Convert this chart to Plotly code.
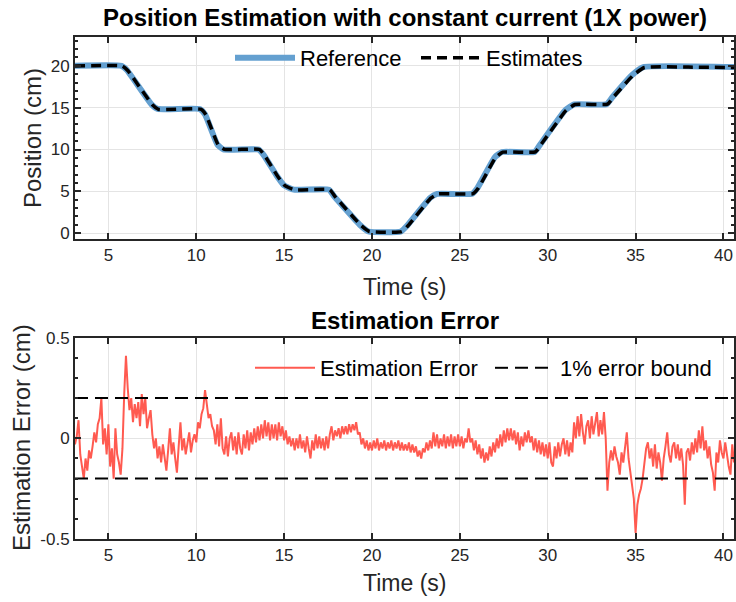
import numpy as np
import plotly.graph_objects as go

# ---- reference trajectory (knots of the commanded position, cm) ----
ref_time = [3.1, 5.75, 6.05, 7.45, 7.8, 10.2, 10.5, 11.2, 11.55, 13.55, 13.85, 14.6,
            15.0, 15.55, 17.55, 17.85, 19.3, 19.8, 21.65, 22.0, 23.3, 23.7, 25.7,
            26.0, 27.0, 27.4, 29.25, 29.6, 31.0, 31.5, 33.35, 33.7, 34.8, 35.45, 40.6]
ref_pos = [20.0, 20.0, 19.5, 15.4, 14.85, 14.85, 14.2, 10.6, 10.0, 10.0, 9.3, 6.8,
           5.7, 5.2, 5.2, 4.4, 1.0, 0.2, 0.2, 0.9, 4.2, 4.7, 4.7,
           5.4, 9.1, 9.7, 9.7, 10.7, 14.7, 15.4, 15.4, 16.3, 18.9, 19.85, 19.85]

# ---- estimated position (cm) ----
est_time = [3.1, 5.8, 6.1, 7.5, 7.85, 10.25, 10.55, 11.25, 11.6, 13.6, 13.9, 14.65,
            15.05, 15.6, 17.6, 17.9, 19.35, 19.85, 21.7, 22.05, 23.35, 23.75, 25.75,
            26.05, 27.05, 27.45, 29.3, 29.65, 31.05, 31.55, 33.4, 33.75, 34.85, 35.5,
            38.0, 40.6]
est_pos = [19.98, 19.98, 19.45, 15.35, 14.8, 14.82, 14.15, 10.55, 10.02, 10.0, 9.25,
           6.75, 5.68, 5.18, 5.2, 4.38, 0.98, 0.2, 0.18, 0.88, 4.18, 4.68, 4.72,
           5.38, 9.08, 9.68, 9.72, 10.68, 14.68, 15.38, 15.42, 16.28, 18.85, 19.8,
           19.85, 19.8]

# ---- estimation error, sampled every 0.1 s from 3.1 s (cm) ----
err_start = 3.1
err_step = 0.1
err_vals = [
    -0.03, 0.01, 0.09, -0.08, -0.14, -0.20, -0.10, -0.16, -0.06,                # 3.1-3.9
    -0.10, -0.04, 0.03, -0.02, 0.07, 0.10, 0.20, -0.03, 0.05, -0.08,            # 4
    0.07, -0.14, -0.05, -0.20, 0.05, -0.08, -0.12, -0.18, -0.05, 0.22,          # 5
    0.41, 0.25, 0.14, 0.20, 0.08, 0.17, 0.10, 0.18, 0.06, 0.22,                 # 6
    0.12, 0.20, 0.05, 0.10, 0.14, 0.02, -0.05, 0.00, -0.10, -0.04,              # 7
    -0.12, -0.03, -0.10, -0.16, -0.06, 0.05, -0.08, -0.02, -0.10, -0.17,        # 8
    -0.04, 0.08, -0.06, 0.00, -0.08, -0.02, 0.03, -0.07, -0.01, 0.02,           # 9
    -0.02, 0.08, 0.05, 0.12, 0.15, 0.24, 0.16, 0.10, 0.12, 0.06,                # 10
    0.04, -0.03, 0.07, -0.04, 0.10, -0.05, -0.08, 0.01, -0.09, 0.00,            # 11
    0.03, -0.06, 0.01, -0.08, 0.03, -0.05, -0.08, 0.02, -0.05, 0.04,            # 12
    -0.06, 0.03, -0.03, 0.05, -0.02, 0.06, -0.01, 0.07, 0.00, 0.09,             # 13
    0.01, 0.08, -0.01, 0.07, 0.00, 0.07, -0.01, 0.08, 0.01, 0.06,               # 14
    -0.01, 0.04, -0.03, 0.01, -0.04, 0.00, -0.06, 0.00, -0.05, 0.02,            # 15
    -0.05, -0.01, -0.07, 0.01, -0.05, -0.10, -0.01, -0.06, 0.02, -0.05,         # 16
    0.01, -0.05, 0.00, -0.06, 0.01, -0.05, 0.02, 0.06, -0.01, 0.04,             # 17
    0.01, 0.05, 0.00, 0.06, 0.02, 0.06, 0.02, 0.07, 0.03, 0.07,                 # 18
    0.04, 0.08, 0.02, 0.03, -0.03, 0.00, -0.05, -0.01, -0.06, -0.02,            # 19
    -0.06, -0.01, -0.05, 0.00, -0.06, -0.02, -0.05, -0.01, -0.06, -0.02,        # 20
    -0.05, -0.01, -0.06, -0.02, -0.05, -0.01, -0.06, -0.02, -0.06, -0.03,       # 21
    -0.06, -0.02, -0.07, -0.03, -0.07, -0.04, -0.09, -0.06, -0.10, -0.05,       # 22
    -0.07, -0.02, -0.06, -0.01, -0.05, 0.03, -0.04, 0.02, -0.05, 0.00,          # 23
    -0.04, 0.02, -0.05, 0.01, -0.04, 0.02, -0.05, 0.01, -0.04, 0.02,            # 24
    -0.04, 0.01, -0.05, 0.00, -0.02, 0.05, -0.02, 0.00, -0.06, -0.01,           # 25
    -0.08, -0.03, -0.10, -0.05, -0.12, -0.07, -0.11, -0.04, -0.09, -0.02,       # 26
    -0.07, 0.00, -0.05, 0.02, -0.04, 0.04, -0.02, 0.05, -0.01, 0.05,            # 27
    -0.01, 0.04, -0.03, 0.03, -0.06, 0.01, -0.04, 0.03, -0.02, 0.04,            # 28
    -0.02, 0.01, -0.06, 0.00, -0.07, -0.01, -0.08, -0.02, -0.09, -0.03,         # 29
    -0.10, -0.02, -0.12, -0.14, -0.04, -0.10, -0.02, -0.09, -0.03, 0.00,        # 30
    -0.08, -0.01, -0.09, -0.02, -0.07, 0.08, 0.00, 0.11, 0.01, 0.12,            # 31
    0.03, -0.03, 0.06, 0.09, 0.00, 0.11, 0.02, 0.09, 0.13, 0.01,                # 32
    0.09, 0.02, 0.13, 0.00, -0.26, -0.12, -0.06, -0.11, -0.04, -0.09,           # 33
    -0.12, -0.18, -0.07, -0.12, -0.05, 0.03, -0.10, -0.17, -0.22, -0.30,        # 34
    -0.47, -0.33, -0.28, -0.25, -0.20, -0.12, -0.05, -0.02, -0.10, -0.05,       # 35
    -0.14, -0.03, -0.15, -0.07, -0.12, -0.21, -0.10, -0.04, 0.03, -0.08,        # 36
    -0.12, -0.04, -0.02, -0.10, -0.03, -0.11, -0.05, -0.13, -0.33, -0.07,       # 37
    -0.05, -0.11, -0.02, -0.08, 0.00, -0.07, 0.04, -0.05, 0.06, -0.06,          # 38
    -0.01, -0.10, -0.04, -0.13, -0.17, -0.26, -0.07, -0.12, -0.01, -0.07,       # 39
    -0.10, -0.02, -0.09, -0.14, -0.18, -0.03, -0.12,                            # 40
]
err_time = err_start + err_step * np.arange(len(err_vals))

error_bound = 0.2          # 1 % of the 20 cm travel
time_range = [3.1, 40.6]

time_ticks = [5, 10, 15, 20, 25, 30, 35, 40]
pos_ticks = [0, 5, 10, 15, 20]
err_ticks = [-0.5, 0, 0.5]
err_tick_labels = ["-0.5", "0", "0.5"]

FONT = "Liberation Sans, Arial, Helvetica, sans-serif"
INK = "#262626"
GRID = "#e4e4e4"

W, H = 736, 602
def px_x(p):
    return p / W
def px_y(p):
    return 1 - p / H

fig = go.Figure()

fig.add_trace(go.Scatter(
    x=ref_time, y=ref_pos, mode="lines", name="Reference",
    line=dict(color="#64a0d0", width=6, shape="spline", smoothing=0.4),
    xaxis="x", yaxis="y", legend="legend"))
fig.add_trace(go.Scatter(
    x=est_time, y=est_pos, mode="lines", name="Estimates",
    line=dict(color="black", width=3.5, dash="10px,6px", shape="spline", smoothing=0.4),
    xaxis="x", yaxis="y", legend="legend"))

fig.add_trace(go.Scatter(
    x=err_time, y=err_vals, mode="lines", name="Estimation Error",
    line=dict(color="#ff5a50", width=2),
    xaxis="x2", yaxis="y2", legend="legend2"))
fig.add_trace(go.Scatter(
    x=[time_range[0], time_range[1], None, time_range[0], time_range[1]],
    y=[error_bound, error_bound, None, -error_bound, -error_bound],
    mode="lines", name="1% error bound",
    line=dict(color="black", width=2, dash="13px,7px"),
    xaxis="x2", yaxis="y2", legend="legend2"))

axis_common = dict(
    showline=True, linecolor=INK, linewidth=2, mirror="allticks",
    ticks="inside", ticklen=6, tickwidth=1.5, tickcolor=INK,
    showgrid=True, gridcolor=GRID, gridwidth=1, zeroline=False,
    automargin=False,
    tickfont=dict(family=FONT, size=17, color=INK),
)

x_dom = [px_x(75), px_x(734)]
legend_common = dict(orientation="h", xanchor="left", yanchor="middle",
                     bgcolor="rgba(0,0,0,0)", borderwidth=0,
                     font=dict(family=FONT, size=22, color="black"),
                     itemwidth=60, tracegroupgap=0, entrywidthmode="pixels")
fig.update_layout(
    template="none",
    width=W, height=H,
    margin=dict(l=0, r=0, t=0, b=0, pad=0, autoexpand=False),
    paper_bgcolor="white", plot_bgcolor="white",
    showlegend=True,
    xaxis=dict(domain=x_dom, range=time_range, tickvals=time_ticks,
               anchor="y", **axis_common),
    yaxis=dict(domain=[px_y(239), px_y(37)], range=[-0.7, 23.45], tickvals=pos_ticks,
               anchor="x",
               minor=dict(dtick=1, ticks="inside", ticklen=3, tickcolor=INK, showgrid=False),
               **axis_common),
    xaxis2=dict(domain=x_dom, range=time_range, tickvals=time_ticks,
                anchor="y2", **axis_common),
    yaxis2=dict(domain=[px_y(539), px_y(337.7)], range=[-0.5, 0.5], tickvals=err_ticks,
                ticktext=err_tick_labels, anchor="x2",
                minor=dict(dtick=0.1, ticks="inside", ticklen=3, tickcolor=INK, showgrid=False),
                **axis_common),
    legend=dict(x=px_x(230), y=px_y(58), entrywidth=111, **legend_common),
    legend2=dict(x=px_x(250), y=px_y(368), entrywidth=165, **legend_common),
)

annotations = [
    dict(text="<b>Position Estimation with constant current (1X power)</b>",
         x=(x_dom[0] + x_dom[1]) / 2, y=px_y(18), font=dict(size=24)),
    dict(text="<b>Estimation Error</b>",
         x=(x_dom[0] + x_dom[1]) / 2, y=px_y(320), font=dict(size=24)),
    dict(text="Time (s)", x=(x_dom[0] + x_dom[1]) / 2, y=px_y(287), font=dict(size=23)),
    dict(text="Time (s)", x=(x_dom[0] + x_dom[1]) / 2, y=px_y(583), font=dict(size=23)),
    dict(text="Position (cm)", x=px_x(32), y=px_y(138), textangle=-90, font=dict(size=24)),
    dict(text="Estimation Error (cm)", x=px_x(21), y=px_y(438), textangle=-90,
         font=dict(size=24)),
]
for a in annotations:
    a.update(xref="paper", yref="paper", showarrow=False, xanchor="center", yanchor="middle")
    a["font"].update(family=FONT, color="black" if "<b>" in a["text"] else INK)
fig.update_layout(annotations=annotations)

fig.write_html("out.html")
